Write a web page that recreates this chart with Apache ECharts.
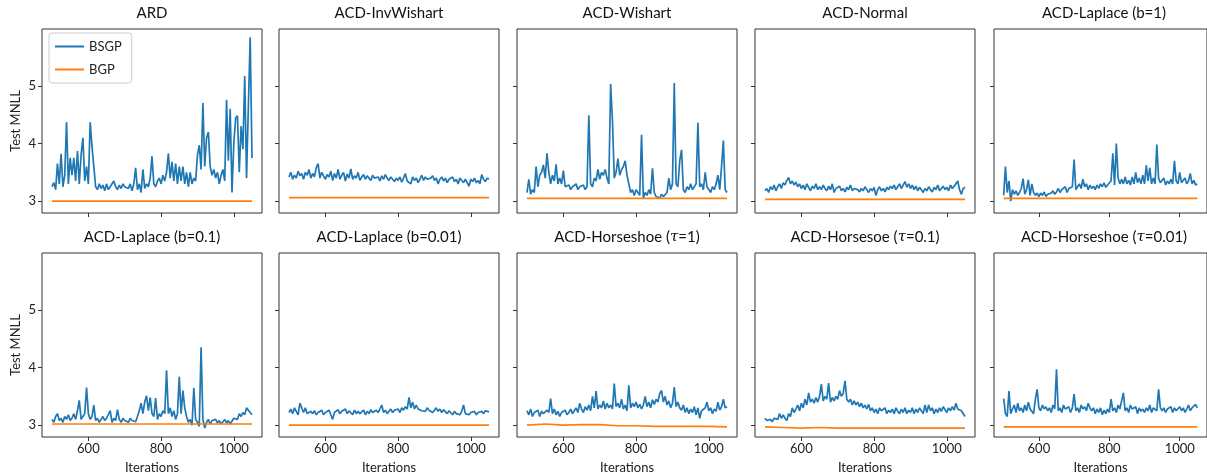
<!DOCTYPE html>
<html><head><meta charset="utf-8">
<script src="https://cdn.jsdelivr.net/npm/echarts@6/dist/echarts.min.js"></script>
<style>html,body{margin:0;padding:0;background:#fff}#c{width:1207px;height:476px}</style>
</head><body><div id="c"></div>
<script>
// ---- data ----
const ITER_START = 500;   // first iteration shown
const BSGP_STEP = 5;      // BSGP values read every 5 iterations
const BGP_STEP = 50;      // BGP values read every 50 iterations
const xTicks = [600, 800, 1000];
const yTicks = [3, 4, 5];
const panelTitles = [
  'ARD', 'ACD-InvWishart', 'ACD-Wishart', 'ACD-Normal', 'ACD-Laplace (b=1)',
  'ACD-Laplace (b=0.1)', 'ACD-Laplace (b=0.01)', 'ACD-Horseshoe ({t|τ}=1)',
  'ACD-Horsesoe ({t|τ}=0.1)', 'ACD-Horseshoe ({t|τ}=0.01)'
];

const bsgpARD = [
 3.25,3.32,3.2,3.65,3.3,3.82,3.25,3.45,4.37,3.3,
 3.75,3.45,3.75,3.35,3.87,3.3,3.8,4.1,3.35,3.6,
 3.3,4.37,3.95,3.6,3.25,3.2,3.3,3.22,3.28,3.18,
 3.3,3.2,3.25,3.22,3.35,3.25,3.2,3.28,3.22,3.3,
 3.25,3.28,3.22,3.3,3.18,3.3,3.58,3.2,3.3,3.15,
 3.55,3.22,3.3,3.25,3.4,3.78,3.3,3.25,3.35,3.4,
 3.3,3.45,3.35,3.5,3.83,3.4,3.68,3.35,3.65,3.3,
 3.6,3.35,3.6,3.3,3.5,3.25,3.5,3.3,3.4,3.35,
 3.8,3.97,3.55,4.7,3.6,4.1,4.2,3.6,3.45,3.55,
 3.4,3.5,3.3,3.45,3.55,3.35,4.76,3.7,4.6,3.15,
 4.0,4.44,4.48,3.5,4.3,3.9,5.17,3.4,4.64,5.84,
 3.75];
const bsgpInvWishart = [
 3.42,3.5,3.38,3.45,3.4,3.52,3.44,3.48,3.38,3.5,
 3.45,3.55,3.4,3.48,3.42,3.58,3.65,3.4,3.5,3.44,
 3.38,3.46,3.42,3.52,3.36,3.48,3.4,3.55,3.38,3.45,
 3.5,3.35,3.47,3.4,3.56,3.38,3.44,3.4,3.5,3.36,
 3.42,3.46,3.38,3.44,3.4,3.36,3.45,3.4,3.38,3.42,
 3.35,3.44,3.38,3.46,3.4,3.36,3.42,3.38,3.34,3.4,
 3.36,3.42,3.33,3.4,3.48,3.35,3.38,3.3,3.42,3.36,
 3.4,3.32,3.38,3.45,3.36,3.42,3.38,3.35,3.4,3.44,
 3.36,3.4,3.3,3.38,3.42,3.35,3.4,3.32,3.38,3.36,
 3.42,3.34,3.38,3.3,3.4,3.36,3.32,3.38,3.35,3.26,
 3.38,3.34,3.4,3.32,3.36,3.3,3.46,3.38,3.34,3.4,
 3.38];
const bsgpWishart = [
 3.15,3.38,3.12,3.2,3.15,3.6,3.25,3.45,3.5,3.63,
 3.4,3.83,3.5,3.3,3.45,3.35,3.64,3.3,3.4,3.3,
 3.53,3.25,3.22,3.28,3.2,3.25,3.22,3.3,3.2,3.25,
 3.22,3.28,3.2,3.25,4.49,3.3,3.25,3.4,3.35,3.55,
 3.38,3.5,3.45,3.55,3.4,3.3,5.03,4.4,3.4,3.5,
 3.74,3.45,3.55,3.6,3.7,3.45,3.3,3.15,3.2,3.1,
 3.2,3.15,3.1,4.15,3.05,3.15,3.1,3.2,3.12,3.57,
 3.15,3.08,3.1,3.05,3.12,3.08,3.06,3.15,3.4,3.2,
 3.3,5.05,3.3,3.25,3.7,3.89,3.2,3.15,3.25,3.2,
 3.3,3.2,3.25,3.3,4.36,3.25,3.3,3.2,3.5,3.25,
 3.2,3.15,3.25,3.2,3.3,3.45,3.2,3.6,4.05,3.2,
 3.15];
const bsgpNormal = [
 3.18,3.22,3.15,3.25,3.2,3.28,3.18,3.25,3.3,3.22,
 3.32,3.28,3.36,3.41,3.3,3.35,3.28,3.33,3.25,3.3,
 3.22,3.28,3.2,3.3,3.24,3.18,3.26,3.22,3.3,3.2,
 3.25,3.2,3.28,3.22,3.18,3.26,3.2,3.3,3.15,3.22,
 3.2,3.26,3.18,3.22,3.16,3.24,3.2,3.28,3.18,3.22,
 3.24,3.2,3.16,3.22,3.18,3.25,3.2,3.15,3.22,3.18,
 3.24,3.1,3.2,3.25,3.18,3.22,3.16,3.24,3.2,3.26,
 3.22,3.28,3.2,3.25,3.3,3.22,3.28,3.34,3.24,3.3,
 3.22,3.28,3.2,3.26,3.18,3.24,3.2,3.15,3.22,3.18,
 3.25,3.2,3.16,3.24,3.2,3.28,3.18,3.22,3.26,3.2,
 3.24,3.18,3.28,3.22,3.2,3.3,3.35,3.2,3.12,3.22,
 3.24];
const bsgpLaplace1 = [
 3.1,3.6,3.15,3.35,3.0,3.2,3.12,3.18,3.1,3.15,
 3.22,3.39,3.12,3.2,3.37,3.1,3.3,3.15,3.1,3.14,
 3.08,3.14,3.1,3.16,3.08,3.12,3.1,3.14,3.18,3.12,
 3.16,3.22,3.15,3.2,3.18,3.25,3.15,3.22,3.2,3.25,
 3.72,3.2,3.25,3.3,3.22,3.38,3.25,3.3,3.2,3.28,
 3.22,3.26,3.2,3.28,3.22,3.3,3.25,3.32,3.24,3.28,
 3.3,3.35,3.83,3.28,4.0,3.4,3.3,3.38,3.3,3.42,
 3.3,3.36,3.28,3.42,3.3,3.5,3.32,3.4,3.3,3.45,
 3.3,3.62,3.35,3.58,3.3,3.4,3.3,3.98,3.4,3.32,
 3.3,3.4,3.28,3.35,3.3,3.38,3.3,3.7,3.35,3.3,
 3.5,3.32,3.3,3.4,3.3,3.35,3.48,3.3,3.36,3.28,
 3.3];
const bsgpLaplace01 = [
 3.1,3.05,3.15,3.2,3.08,3.12,3.05,3.15,3.1,3.18,
 3.08,3.12,3.2,3.1,3.25,3.43,3.1,3.15,3.2,3.65,
 3.2,3.1,3.15,3.35,3.08,3.12,3.05,3.1,3.15,3.08,
 3.12,3.1,3.25,3.05,3.12,3.08,3.27,3.1,3.05,3.12,
 3.08,3.1,3.05,3.12,3.08,3.1,3.06,3.15,3.25,3.38,
 3.2,3.4,3.51,3.25,3.48,3.2,3.15,3.47,3.1,3.2,
 3.15,3.25,3.2,3.95,3.2,3.3,3.15,3.25,3.1,3.2,
 3.84,3.2,3.6,3.3,3.15,3.05,3.1,3.0,3.65,3.1,
 3.05,2.98,4.35,3.1,2.95,3.05,3.1,3.02,3.08,3.05,
 3.1,3.04,3.08,3.02,3.06,3.1,3.04,3.08,3.02,3.05,
 3.12,3.15,3.1,3.2,3.15,3.22,3.18,3.3,3.33,3.22,
 3.18];
const bsgpLaplace001 = [
 3.22,3.28,3.2,3.3,3.24,3.18,3.38,3.41,3.22,3.3,
 3.2,3.18,3.24,3.2,3.25,3.18,3.22,3.2,3.26,3.18,
 3.22,3.2,3.26,3.18,3.1,3.22,3.2,3.27,3.2,3.24,
 3.22,3.28,3.2,3.25,3.22,3.18,3.26,3.2,3.24,3.2,
 3.22,3.26,3.18,3.24,3.2,3.27,3.22,3.2,3.26,3.22,
 3.28,3.35,3.22,3.26,3.2,3.24,3.28,3.22,3.26,3.24,
 3.28,3.22,3.3,3.26,3.32,3.28,3.48,3.3,3.4,3.28,
 3.35,3.28,3.3,3.25,3.28,3.24,3.3,3.26,3.28,3.22,
 3.26,3.3,3.24,3.28,3.22,3.27,3.24,3.2,3.25,3.22,
 3.18,3.24,3.2,3.22,3.18,3.24,3.35,3.2,3.22,3.18,
 3.22,3.2,3.24,3.18,3.22,3.2,3.24,3.2,3.25,3.22,
 3.23];
const bsgpHorseshoe1 = [
 3.25,3.18,3.28,3.15,3.22,3.2,3.26,3.15,3.24,3.2,
 3.18,3.26,3.22,3.46,3.2,3.28,3.18,3.24,3.15,3.22,
 3.2,3.26,3.18,3.22,3.28,3.2,3.25,3.3,3.22,3.38,
 3.28,3.22,3.32,3.26,3.35,3.25,3.5,3.3,3.59,3.28,
 3.35,3.3,3.42,3.28,3.38,3.3,3.35,3.28,3.72,3.32,
 3.38,3.3,3.45,3.28,3.35,3.25,3.69,3.3,3.38,3.32,
 3.4,3.3,3.36,3.28,3.35,3.5,3.32,3.4,3.3,3.44,
 3.36,3.45,3.4,3.55,3.6,3.4,3.5,3.35,3.42,3.3,
 3.38,3.66,3.32,3.4,3.3,3.26,3.35,3.22,3.3,3.2,
 3.28,3.22,3.32,3.18,3.3,3.12,3.25,3.22,3.3,3.4,
 3.25,3.3,3.2,3.28,3.24,3.4,3.26,3.32,3.45,3.3,
 3.32];
const bsgpHorseshoe01 = [
 3.12,3.08,3.05,3.1,3.06,3.12,3.15,3.1,3.2,3.12,
 3.18,3.12,3.08,3.2,3.15,3.3,3.22,3.28,3.35,3.25,
 3.38,3.3,3.45,3.35,3.56,3.4,3.45,3.38,3.48,3.4,
 3.5,3.71,3.42,3.5,3.45,3.73,3.4,3.48,3.42,3.5,
 3.45,3.6,3.5,3.55,3.77,3.45,3.4,3.45,3.35,3.42,
 3.35,3.4,3.32,3.38,3.3,3.35,3.28,3.36,3.25,3.3,
 3.22,3.28,3.2,3.3,3.25,3.22,3.3,3.2,3.26,3.22,
 3.28,3.2,3.3,3.24,3.2,3.28,3.22,3.3,3.2,3.26,
 3.22,3.3,3.2,3.28,3.22,3.3,3.25,3.2,3.35,3.22,
 3.35,3.25,3.3,3.2,3.28,3.22,3.3,3.24,3.32,3.35,
 3.22,3.3,3.25,3.32,3.26,3.38,3.28,3.3,3.25,3.22,
 3.15];
const bsgpHorseshoe001 = [
 3.46,3.2,3.15,3.59,3.2,3.28,3.35,3.22,3.38,3.25,
 3.3,3.22,3.35,3.25,3.4,3.28,3.3,3.2,3.45,3.62,
 3.3,3.25,3.35,3.28,3.32,3.25,3.3,3.22,3.35,3.28,
 3.97,3.25,3.3,3.22,3.35,3.28,3.25,3.32,3.22,3.3,
 3.54,3.25,3.3,3.22,3.35,3.28,3.32,3.25,3.38,3.3,
 3.25,3.3,3.2,3.28,3.22,3.3,3.18,3.26,3.2,3.28,
 3.22,3.45,3.25,3.3,3.22,3.35,3.28,3.3,3.56,3.25,
 3.3,3.22,3.35,3.28,3.25,3.32,3.2,3.3,3.24,3.28,
 3.22,3.3,3.25,3.35,3.22,3.3,3.28,3.25,3.62,3.3,
 3.25,3.3,3.22,3.28,3.25,3.32,3.22,3.3,3.25,3.28,
 3.32,3.25,3.3,3.22,3.28,3.35,3.25,3.3,3.28,3.36,
 3.3];

const bgpARD          = [3.0,3.0,3.0,3.0,3.0,3.0,3.0,3.0,3.0,3.0,3.0,3.0];
const bgpInvWishart   = [3.06,3.06,3.06,3.06,3.06,3.06,3.06,3.06,3.06,3.06,3.06,3.06];
const bgpWishart      = [3.05,3.05,3.05,3.05,3.05,3.05,3.05,3.05,3.05,3.05,3.05,3.05];
const bgpNormal       = [3.03,3.03,3.03,3.03,3.03,3.03,3.03,3.03,3.03,3.03,3.03,3.03];
const bgpLaplace1     = [3.05,3.05,3.05,3.05,3.05,3.05,3.05,3.05,3.05,3.05,3.05,3.05];
const bgpLaplace01    = [3.02,3.02,3.02,3.02,3.02,3.02,3.02,3.02,3.02,3.02,3.02,3.02];
const bgpLaplace001   = [3.0,3.0,3.0,3.0,3.0,3.0,3.0,3.0,3.0,3.0,3.0,3.0];
const bgpHorseshoe1   = [3.0,3.02,3.0,3.01,3.01,2.99,2.99,2.98,2.98,2.98,2.98,2.97];
const bgpHorseshoe01  = [2.97,2.96,2.95,2.96,2.95,2.95,2.95,2.95,2.95,2.95,2.95,2.95];
const bgpHorseshoe001 = [2.97,2.97,2.97,2.97,2.97,2.97,2.97,2.97,2.97,2.97,2.97,2.97];

const bsgpAll = [bsgpARD,bsgpInvWishart,bsgpWishart,bsgpNormal,bsgpLaplace1,
  bsgpLaplace01,bsgpLaplace001,bsgpHorseshoe1,bsgpHorseshoe01,bsgpHorseshoe001];
const bgpAll = [bgpARD,bgpInvWishart,bgpWishart,bgpNormal,bgpLaplace1,
  bgpLaplace01,bgpLaplace001,bgpHorseshoe1,bgpHorseshoe01,bgpHorseshoe001];

// ---- layout ----
const FONT = 'Lato';
const colLeft = [42, 279, 517, 755, 994];
const rowTop = [29, 253];
const PW = 220, PH = 184;
const X_MIN = 472.5, X_MAX = 1077.5, Y_MIN = 2.795, Y_MAX = 5.985;

const grid = [], xAxis = [], yAxis = [], series = [], title = [];
for (let k = 0; k < 10; k++) {
  const r = Math.floor(k / 5), c = k % 5;
  grid.push({left: colLeft[c], top: rowTop[r], width: PW, height: PH,
    show: true, borderColor: '#333', borderWidth: 1, backgroundColor: 'transparent'});
  xAxis.push({type: 'value', gridIndex: k, min: X_MIN, max: X_MAX,
    axisLine: {show: false}, splitLine: {show: false},
    axisTick: {show: true, inside: false, length: 4, lineStyle: {color: '#333'}, customValues: xTicks},
    axisLabel: {show: r === 1, customValues: xTicks, color: '#222', fontSize: 13, fontFamily: FONT, margin: 5,
      formatter: v => String(v)},
    name: r === 1 ? 'Iterations' : '', nameLocation: 'middle', nameGap: 24,
    nameTextStyle: {color: '#222', fontSize: 13, fontFamily: FONT}});
  yAxis.push({type: 'value', gridIndex: k, min: Y_MIN, max: Y_MAX,
    axisLine: {show: false}, splitLine: {show: false},
    axisTick: {show: true, inside: false, length: 4, lineStyle: {color: '#333'}, customValues: yTicks},
    axisLabel: {show: c === 0, customValues: yTicks, color: '#222', fontSize: 13, fontFamily: FONT, margin: 6,
      formatter: v => String(v)},
    name: c === 0 ? 'Test MNLL' : '', nameLocation: 'middle', nameGap: 20,
    nameTextStyle: {color: '#222', fontSize: 13, fontFamily: FONT}});
  title.push({text: panelTitles[k], left: colLeft[c] + PW / 2, top: rowTop[r] - 23,
    textAlign: 'center', padding: 0,
    textStyle: {fontSize: 15, fontWeight: 'normal', color: '#111', fontFamily: FONT,
      rich: {t: {fontStyle: 'italic', fontSize: 15, fontFamily: 'DejaVu Serif', color: '#111'}}}});
  series.push({name: 'BSGP', type: 'line', xAxisIndex: k, yAxisIndex: k, showSymbol: false,
    animation: false, lineStyle: {color: '#1f77b4', width: 1.7}, itemStyle: {color: '#1f77b4'},
    data: bsgpAll[k].map((v, i) => [ITER_START + i * BSGP_STEP, v])});
  series.push({name: 'BGP', type: 'line', xAxisIndex: k, yAxisIndex: k, showSymbol: false,
    animation: false, lineStyle: {color: '#ff7f0e', width: 1.7}, itemStyle: {color: '#ff7f0e'},
    data: bgpAll[k].map((v, i) => [ITER_START + i * BGP_STEP, v])});
}

const chart = echarts.init(document.getElementById('c'), null, {renderer: 'canvas'});
chart.setOption({
  animation: false,
  title, grid, xAxis, yAxis, series,
  legend: {data: ['BSGP', 'BGP'], orient: 'vertical', left: 49, top: 33,
    icon: 'rect', itemWidth: 29, itemHeight: 2, itemGap: 10,
    padding: [7, 10, 7, 6], borderColor: '#ccc', borderWidth: 1, borderRadius: 3,
    backgroundColor: '#fff',
    textStyle: {fontSize: 13, color: '#222', fontFamily: FONT}}
});
</script></body></html>
